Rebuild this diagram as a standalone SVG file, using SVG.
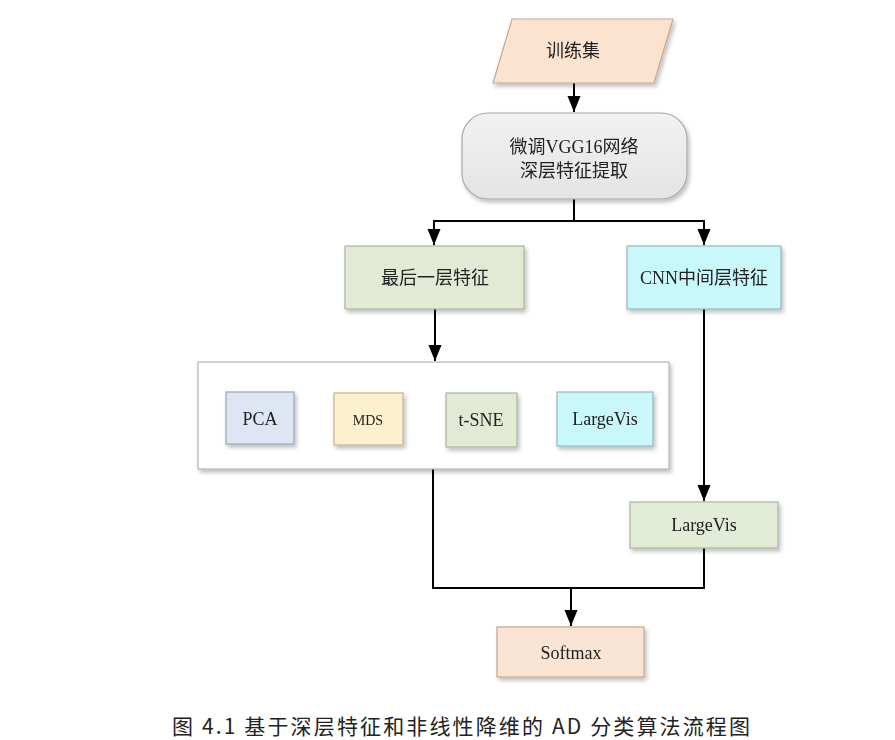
<svg xmlns="http://www.w3.org/2000/svg" width="895" height="740" viewBox="0 0 895 740">
<style>
.t{font-family:"Liberation Serif","Noto Sans CJK SC",serif;font-size:18px;fill:#222;text-anchor:middle;dominant-baseline:central}
.c{stroke:#000;stroke-width:2;fill:none}
.b{stroke-width:1.2}
</style>
<defs>
<marker id="ah" markerWidth="14" markerHeight="16" refX="16" refY="6.5" orient="auto" markerUnits="userSpaceOnUse">
<path d="M0,0 L16,6.5 L0,13 Z" fill="#000"/>
</marker>
<filter id="sh" x="-10%" y="-10%" width="125%" height="135%">
<feDropShadow dx="2" dy="3" stdDeviation="2" flood-color="#000" flood-opacity="0.25"/>
</filter>
<linearGradient id="gg" x1="0" y1="0" x2="0" y2="1">
<stop offset="0" stop-color="#f2f2f2"/><stop offset="1" stop-color="#e4e4e4"/>
</linearGradient>
</defs>
<rect width="895" height="740" fill="#fff"/>
<g id="connectors">
<line class="c" x1="574" y1="83" x2="574" y2="112" marker-end="url(#ah)"/>
<polyline class="c" points="574,199 574,221"/>
<polyline class="c" points="434,232 434,221 704,221 704,232"/>
<line class="c" x1="434" y1="223" x2="434" y2="245" marker-end="url(#ah)"/>
<line class="c" x1="704" y1="223" x2="704" y2="245" marker-end="url(#ah)"/>
<line class="c" x1="435" y1="309" x2="435" y2="361" marker-end="url(#ah)"/>
<line class="c" x1="704" y1="309" x2="704" y2="501" marker-end="url(#ah)"/>
<polyline class="c" points="433,469 433,588 704,588 704,548"/>
<line class="c" x1="571" y1="588" x2="571" y2="626" marker-end="url(#ah)"/>
</g>
<g id="train" filter="url(#sh)">
<polygon class="b" points="512,19 673,19 654,83 493,83" fill="#fbe3cf" stroke="#c8a68c"/>
<text class="t" x="573" y="51">训练集</text>
</g>
<g id="vgg" filter="url(#sh)">
<rect class="b" x="462" y="113" width="225" height="86" rx="26" fill="url(#gg)" stroke="#a8a8a8"/>
<text class="t" x="574" y="147">微调VGG16网络</text>
<text class="t" x="574" y="171">深层特征提取</text>
</g>
<g id="last" filter="url(#sh)">
<rect class="b" x="345" y="246" width="179" height="63" fill="#e2ead5" stroke="#a9b59b"/>
<text class="t" x="435" y="278">最后一层特征</text>
</g>
<g id="cnn" filter="url(#sh)">
<rect class="b" x="627" y="246" width="154" height="63" fill="#c9f8fa" stroke="#92b9bc"/>
<text class="t" x="704" y="278">CNN中间层特征</text>
</g>
<g id="methods">
<rect x="198" y="362" width="471" height="107" fill="#fff" stroke="#b5b5b5" stroke-width="1.2" filter="url(#sh)"/>
</g>
<g id="pca" filter="url(#sh)">
<rect class="b" x="226" y="392" width="68" height="52" fill="#dde6f2" stroke="#9aa6b5"/>
<text class="t" x="260" y="419">PCA</text>
</g>
<g id="mds" filter="url(#sh)">
<rect class="b" x="334" y="393" width="69" height="52" fill="#fdf0cf" stroke="#c3b48f"/>
<text class="t" x="368" y="420" style="font-size:14px">MDS</text>
</g>
<g id="tsne" filter="url(#sh)">
<rect class="b" x="446" y="393" width="71" height="54" fill="#e2ead6" stroke="#a9b59b"/>
<text class="t" x="481" y="420">t-SNE</text>
</g>
<g id="largevis1" filter="url(#sh)">
<rect class="b" x="557" y="392" width="96" height="54" fill="#c9f8fa" stroke="#92b9bc"/>
<text class="t" x="605" y="419">LargeVis</text>
</g>
<g id="largevis2" filter="url(#sh)">
<rect class="b" x="630" y="502" width="148" height="46" fill="#e2ecd7" stroke="#a9b59b"/>
<text class="t" x="704" y="525">LargeVis</text>
</g>
<g id="softmax" filter="url(#sh)">
<rect class="b" x="497" y="627" width="147" height="50" fill="#fae4d3" stroke="#c8a68c"/>
<text class="t" x="571" y="653">Softmax</text>
</g>
<text x="172" y="725" textLength="578" lengthAdjust="spacing" style="font-family:'Noto Sans CJK SC','Liberation Mono',sans-serif;font-size:21px;fill:#222;dominant-baseline:central">图 4.1 基于深层特征和非线性降维的 AD 分类算法流程图</text>
</svg>
